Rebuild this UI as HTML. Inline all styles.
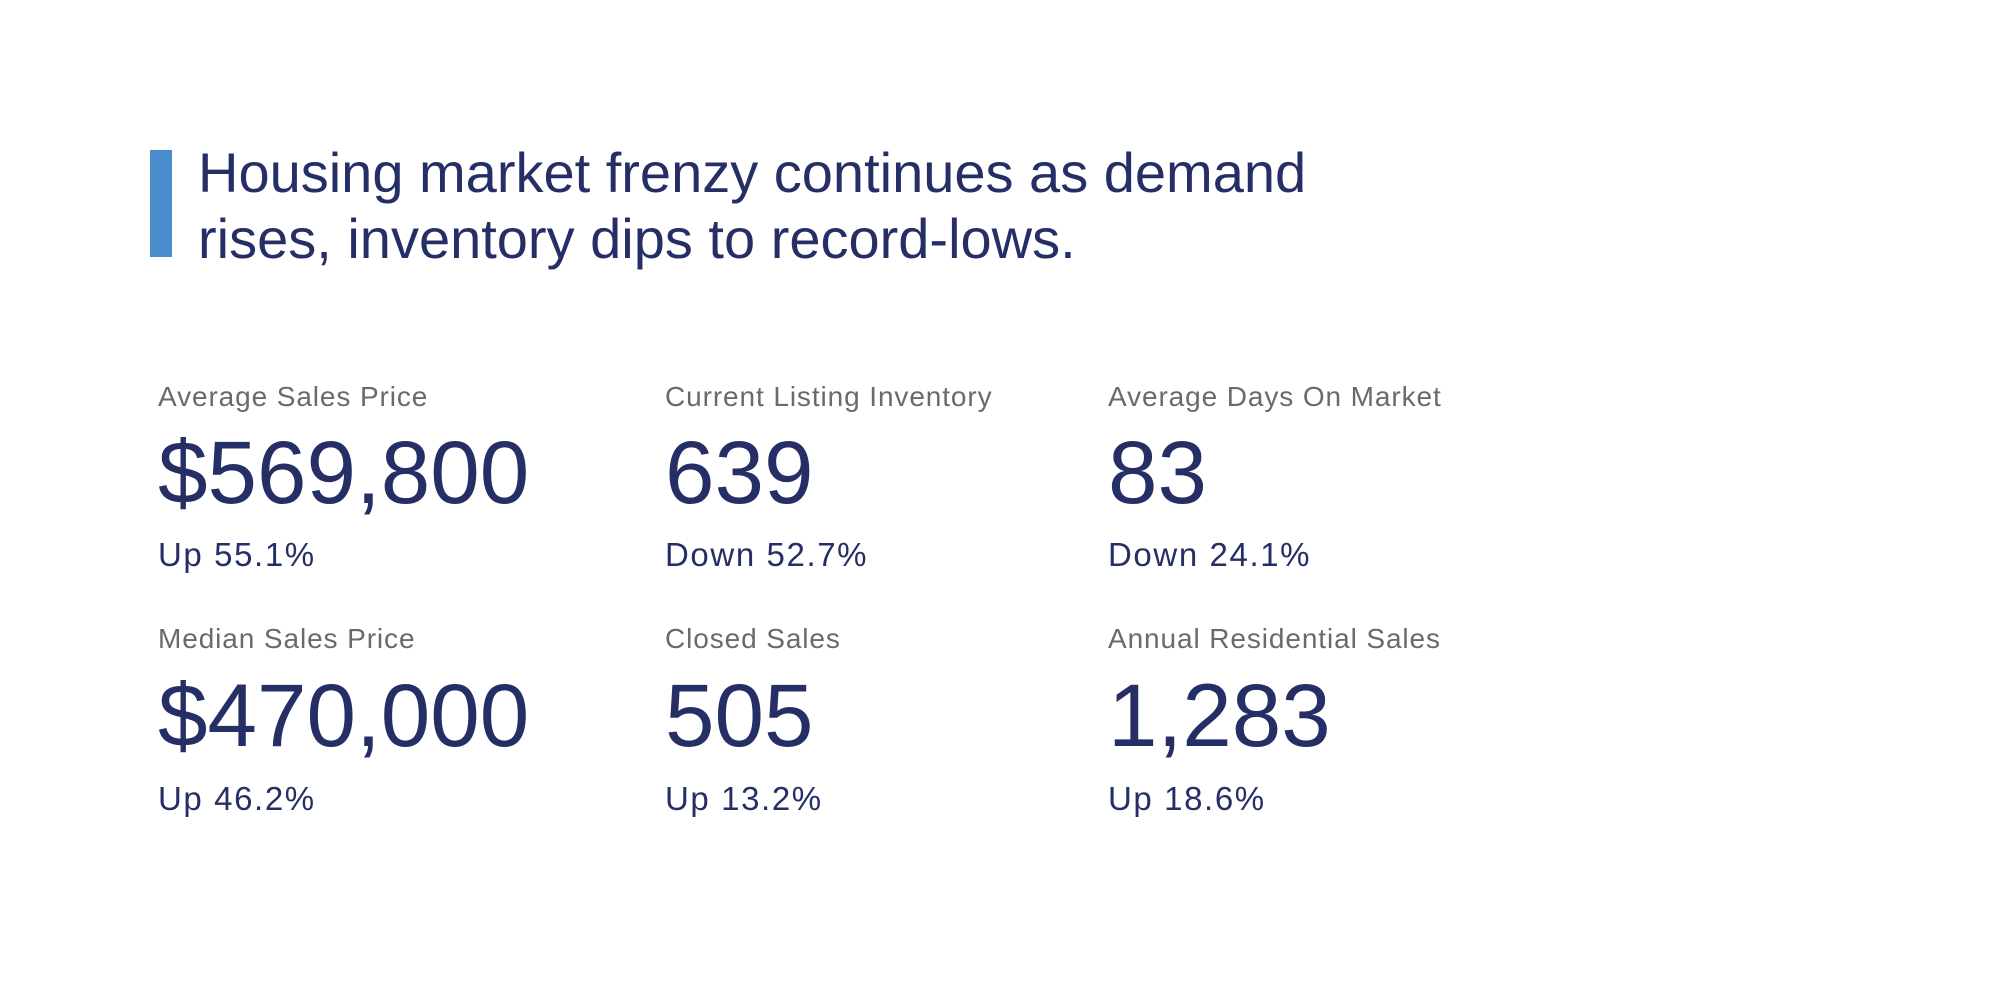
<!DOCTYPE html>
<html><head><meta charset="utf-8"><style>
html,body{margin:0;padding:0;background:#fff;}
body{width:2000px;height:1000px;position:relative;overflow:hidden;font-family:"Liberation Sans",Arial,sans-serif;}
.bar{position:absolute;left:150px;top:150px;width:22px;height:107px;background:#4a8dcc;}
.t{position:absolute;left:198px;font-size:56px;color:#252f66;white-space:nowrap;line-height:1;}
.l{position:absolute;font-size:28px;color:#6a6a6a;letter-spacing:0.9px;white-space:nowrap;line-height:1;}
.n{position:absolute;font-size:89px;color:#252f66;white-space:nowrap;line-height:1;}
.s{position:absolute;font-size:33px;color:#252f66;letter-spacing:1.6px;white-space:nowrap;line-height:1;}
</style></head><body>
<div class="bar"></div>
<div class="t" style="top:145px">Housing market frenzy continues as demand</div>
<div class="t" style="top:211px">rises, inventory dips to record-lows.</div>

<div class="l" style="left:158px;top:383px">Average Sales Price</div>
<div class="n" style="left:158px;top:428px">$569,800</div>
<div class="s" style="left:158px;top:538px">Up 55.1%</div>

<div class="l" style="left:665px;top:383px">Current Listing Inventory</div>
<div class="n" style="left:665px;top:428px">639</div>
<div class="s" style="left:665px;top:538px">Down 52.7%</div>

<div class="l" style="left:1108px;top:383px">Average Days On Market</div>
<div class="n" style="left:1108px;top:428px">83</div>
<div class="s" style="left:1108px;top:538px">Down 24.1%</div>

<div class="l" style="left:158px;top:625px">Median Sales Price</div>
<div class="n" style="left:158px;top:671px">$470,000</div>
<div class="s" style="left:158px;top:782px">Up 46.2%</div>

<div class="l" style="left:665px;top:625px">Closed Sales</div>
<div class="n" style="left:665px;top:671px">505</div>
<div class="s" style="left:665px;top:782px">Up 13.2%</div>

<div class="l" style="left:1108px;top:625px">Annual Residential Sales</div>
<div class="n" style="left:1108px;top:671px">1,283</div>
<div class="s" style="left:1108px;top:782px">Up 18.6%</div>
</body></html>
